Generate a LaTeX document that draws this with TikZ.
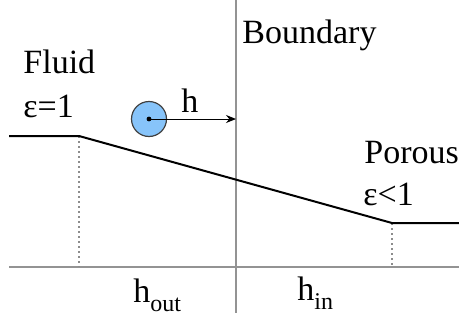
\documentclass[tikz,border=0pt]{standalone}
\usepackage{fontspec}
\setmainfont{Liberation Serif}
\usetikzlibrary{arrows.meta}
\newcommand{\mysub}[1]{\raisebox{-0.28em}{\fontsize{12}{14}\selectfont #1}}
\begin{document}
\begin{tikzpicture}[x=0.5pt,y=-0.5pt,
  lbl/.style={anchor=base west,inner sep=0pt,font=\fontsize{17}{20}\selectfont},
  axisline/.style={draw=gray!85,line width=0.7pt},
  guide/.style={draw=gray!90,line width=0.9pt,dash pattern=on 1pt off 1.5pt},
  profile/.style={draw=black,line width=1pt}]
\useasboundingbox (0,0) rectangle (459,321);
% coordinates
\coordinate (btop) at (236,0);
\coordinate (bbot) at (236,313);
\coordinate (aL) at (9,267);
\coordinate (aR) at (459,267);
\coordinate (p0) at (9,136);
\coordinate (p1) at (79,136);
\coordinate (p2) at (392,223);
\coordinate (p3) at (459,223);
\coordinate (d1) at (79,267);
\coordinate (d2) at (392,267);
\coordinate (c) at (149,119);
\coordinate (tip) at (236,119);
% lines
\draw[axisline] (btop) -- (bbot);
\draw[axisline] (aL) -- (aR);
\draw[guide] (p1) -- (d1);
\draw[guide] (p2) -- (d2);
\draw[profile] (p0) -- (p1) -- (p2) -- (p3);
% particle
\node[circle,draw=black!75,fill={rgb,255:red,135;green,196;blue,250},line width=0.6pt,minimum size=17.5pt,inner sep=0pt] (part) at (c) {};
\draw[line width=0.5pt,-{Stealth[length=5pt,width=4pt]}] (c) -- (tip);
\fill (c) circle (1.2pt);
% labels
\node[lbl] (fluid) at (23,73) {Fluid};
\node[lbl] (eps1) at (23,117) {ε=1};
\node[lbl] (h) at (181,112) {h};
\node[lbl] (bound) at (242,43) {Boundary};
\node[lbl] (porous) at (364,163) {Porous};
\node[lbl] (eps2) at (363,205) {ε<1};
\node[lbl] (hout) at (133,302) {h\mysub{out}};
\node[lbl] (hin) at (297,300) {h\mysub{in}};
\end{tikzpicture}
\end{document}
